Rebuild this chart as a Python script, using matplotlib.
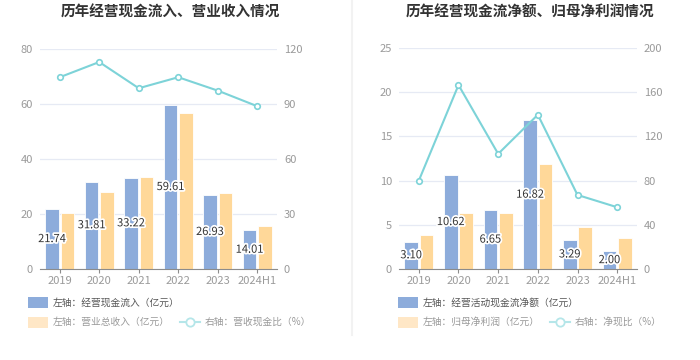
import matplotlib.pyplot as plt
from matplotlib.patches import Rectangle
from matplotlib.lines import Line2D
import matplotlib.patheffects as pe

plt.rcParams['font.family'] = ['Noto Sans CJK SC', 'DejaVu Sans']

years = ['2019', '2020', '2021', '2022', '2023', '2024H1']

# left panel
cash_in = [21.74, 31.81, 33.22, 59.61, 26.93, 14.01]
revenue = [20.5, 27.9, 33.5, 56.6, 27.5, 15.6]
cash_rev_ratio = [104.6, 112.9, 98.6, 104.6, 97.3, 88.8]

# right panel
op_cash_net = [3.10, 10.62, 6.65, 16.82, 3.29, 2.00]
net_profit = [3.82, 6.3, 6.3, 11.9, 4.8, 3.5]
net_cash_ratio = [80, 166.5, 104.2, 139.6, 67, 55.9]

BLUE = '#8DACDB'
YELLOW = '#FFD899'
CYAN = '#7DD3D8'
GRID = '#E6EAF4'
TICK = '#9A9A9A'

W, H = 700, 360
fig = plt.figure(figsize=(7, 3.6), dpi=100)


def px_axes(x0, y0, x1, y1):
    return fig.add_axes([x0 / W, 1 - y1 / H, (x1 - x0) / W, (y1 - y0) / H])


def panel(box, title, title_x, bars1, bars2, line, lmax, lstep, rmax, rstep):
    ax = px_axes(*box)
    x = list(range(len(years)))
    bw = 0.34
    xb1 = [i - bw / 2 - 0.025 for i in x]
    xb2 = [i + bw / 2 + 0.025 for i in x]
    ax.bar(xb1, bars1, width=bw, color=BLUE, edgecolor='white', linewidth=0.6, zorder=2)
    ax.bar(xb2, bars2, width=bw, color=YELLOW, edgecolor='white', linewidth=0.6, zorder=2)
    for xi, v in zip(xb1, bars1):
        ax.text(xi, v / 2, f'{v:.2f}', ha='center', va='center', fontsize=8,
                color='#333333', zorder=5,
                path_effects=[pe.withStroke(linewidth=2.5, foreground='white')])
    ax.set_xlim(-0.5, len(years) - 0.5)
    ax.set_ylim(0, lmax)
    ax.set_yticks(range(0, lmax + 1, lstep))
    ax.set_xticks(x)
    ax.set_xticklabels(years)
    ax.grid(axis='y', color=GRID, linewidth=0.9, zorder=0)
    ax.set_axisbelow(True)
    for s in ['top', 'right', 'left']:
        ax.spines[s].set_visible(False)
    ax.spines['bottom'].set_color('#8C8C8C')
    ax.tick_params(axis='y', length=0, colors=TICK, labelsize=8, pad=5)
    ax.tick_params(axis='x', length=3, color='#8C8C8C', colors=TICK, labelsize=8, pad=2)

    ax2 = ax.twinx()
    ax2.plot(x, line, color=CYAN, linewidth=1.5, marker='o', markersize=4,
             markerfacecolor='white', markeredgecolor=CYAN, markeredgewidth=1.2, zorder=4)
    ax2.set_ylim(0, rmax)
    ax2.set_yticks(range(0, rmax + 1, rstep))
    for s in ax2.spines.values():
        s.set_visible(False)
    ax2.tick_params(axis='y', length=0, colors=TICK, labelsize=8, pad=5)

    fig.text(title_x / W, 1 - 12 / H, title, ha='center', va='center',
             fontsize=10.5, fontweight='bold', color='#333333')
    return ax


def legend(x0, lab1, lab2, lab3, x_line):
    r1, r2 = 302.5, 322
    fig.patches.append(Rectangle((x0 / W, 1 - (r1 + 5.5) / H), 20 / W, 11 / H,
                                 transform=fig.transFigure, facecolor=BLUE,
                                 edgecolor='none'))
    fig.patches.append(Rectangle((x0 / W, 1 - (r2 + 5.5) / H), 20 / W, 11 / H,
                                 transform=fig.transFigure, facecolor='#FFE7C6',
                                 edgecolor='none'))
    fig.text((x0 + 25) / W, 1 - r1 / H, lab1, ha='left', va='center',
             fontsize=7, color='#555555')
    fig.text((x0 + 25) / W, 1 - r2 / H, lab2, ha='left', va='center',
             fontsize=7, color='#999999')
    fig.lines.append(Line2D([x_line / W, (x_line + 20) / W], [1 - r2 / H] * 2,
                            transform=fig.transFigure, color='#B5E6E9', linewidth=1.5))
    fig.lines.append(Line2D([(x_line + 10) / W], [1 - r2 / H],
                            transform=fig.transFigure, marker='o', markersize=6,
                            markerfacecolor='white', markeredgecolor='#B5E6E9',
                            markeredgewidth=1.3, linestyle='none'))
    fig.text((x_line + 25) / W, 1 - r2 / H, lab3, ha='left', va='center',
             fontsize=7, color='#999999')


panel((40, 49, 277, 269), '历年经营现金流入、营业收入情况', 170,
      cash_in, revenue, cash_rev_ratio, 80, 20, 120, 30)
panel((399, 48, 637, 269), '历年经营现金流净额、归母净利润情况', 530,
      op_cash_net, net_profit, net_cash_ratio, 25, 5, 200, 40)

legend(28, '左轴：经营现金流入（亿元）', '左轴：营业总收入（亿元）', '右轴：营收现金比（%）', 180)
legend(398, '左轴：经营活动现金流净额（亿元）', '左轴：归母净利润（亿元）', '右轴：净现比（%）', 550)

# separator between panels
fig.lines.append(Line2D([351.5 / W] * 2, [1, 1 - 335 / H], transform=fig.transFigure,
                        color='#F2F2F2', linewidth=1.5))

fig.savefig('out.png', dpi=100, facecolor='white')
